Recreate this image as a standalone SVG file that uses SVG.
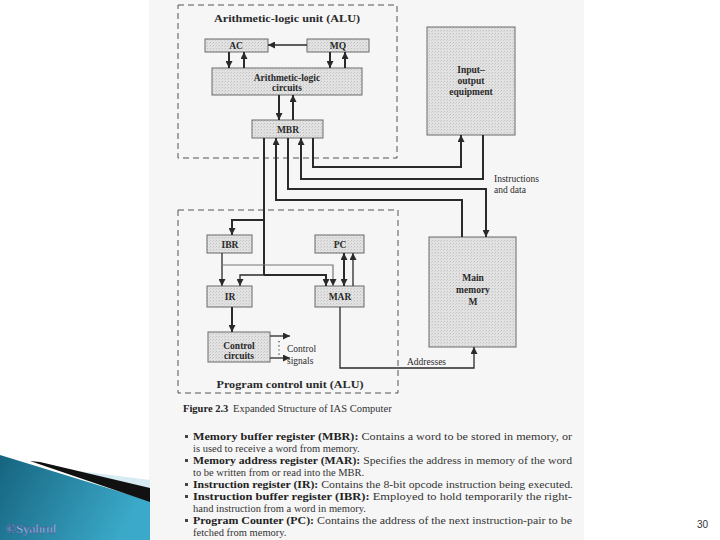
<svg xmlns="http://www.w3.org/2000/svg" width="720" height="540" viewBox="0 0 720 540">
<defs>
<linearGradient id="blue" x1="0" y1="0" x2="1" y2="0.3">
<stop offset="0" stop-color="#16647f"/>
<stop offset="1" stop-color="#3ba9c9"/>
</linearGradient>
<pattern id="stip" width="3" height="3" patternUnits="userSpaceOnUse">
<rect width="3" height="3" fill="#e2e2e2"/>
<rect x="0" y="0" width="1" height="1" fill="#c2c2c2"/>
<rect x="2" y="1" width="1" height="1" fill="#cfcfcf"/>
</pattern>
<marker id="ah" viewBox="0 0 8 8" refX="8" refY="4" markerWidth="7" markerHeight="7" markerUnits="userSpaceOnUse" orient="auto-start-reverse">
<path d="M0,0 L8,4 L0,8 z" fill="#2a2a2a"/>
</marker>
</defs>
<style>
.box{fill:url(#stip);stroke:#6a6a6a;stroke-width:1}
.dash{fill:none;stroke:#555;stroke-width:1;stroke-dasharray:6 4}
.lbl{font-family:"Liberation Serif","Times New Roman",serif;font-weight:bold;font-size:9.5px;fill:#2a2a2a;text-anchor:middle}
.sm{font-family:"Liberation Serif","Times New Roman",serif;font-size:9.5px;fill:#2a2a2a}
.c{fill:none;stroke:#2a2a2a;stroke-width:2}
.t{fill:none;stroke:#2a2a2a;stroke-width:1.3}
.body{font-family:"Liberation Serif","Times New Roman",serif;font-size:10.5px;fill:#333}
.b{font-weight:bold;fill:#222}
</style>
<rect width="720" height="540" fill="#ffffff"/>
<rect x="149" y="0" width="435" height="540" fill="#f6f6f6"/>
<g id="wedge">
<polygon points="0,455 150,501 150,540 0,540" fill="url(#blue)"/>
<polygon points="55,468 150,480 150,490 70,469" fill="#d6ebf2"/>
<polygon points="40,462 150,488 150,502 30,461" fill="#111"/>
<text x="6" y="533" font-family="Liberation Serif, serif" font-size="13" fill="#c9d3f5" stroke="#4a5a9a" stroke-width="0.4">©Syahrul</text>
</g>
<text x="697" y="528" font-family="Liberation Sans, Arial, sans-serif" font-size="10" fill="#333">30</text>

<g id="alu-frame">
<rect class="dash" x="178" y="5" width="219" height="153"/>
<text class="lbl" x="287" y="22" font-size="10" textLength="146" lengthAdjust="spacingAndGlyphs">Arithmetic-logic unit (ALU)</text>
</g>
<g id="pcu-frame">
<rect class="dash" x="178" y="210" width="220" height="183"/>
<text class="lbl" x="290" y="388" font-size="10" textLength="147" lengthAdjust="spacingAndGlyphs">Program control unit (ALU)</text>
</g>

<g id="AC"><rect class="box" x="205" y="39" width="63" height="13"/><text class="lbl" x="236" y="49">AC</text></g>
<g id="MQ"><rect class="box" x="307" y="39" width="62" height="13"/><text class="lbl" x="338" y="49">MQ</text></g>
<g id="ALC"><rect class="box" x="212" y="68" width="150" height="27"/><text class="lbl" x="287" y="81">Arithmetic-logic</text><text class="lbl" x="287" y="91">circuits</text></g>
<g id="MBR"><rect class="box" x="252" y="120" width="71" height="18"/><text class="lbl" x="288" y="133">MBR</text></g>
<g id="IO"><rect class="box" x="427" y="27" width="88" height="108"/><text class="lbl" x="471" y="73">Input–</text><text class="lbl" x="471" y="84">output</text><text class="lbl" x="471" y="95">equipment</text></g>
<g id="MM"><rect class="box" x="429" y="237" width="87" height="110"/><text class="lbl" x="473" y="281">Main</text><text class="lbl" x="473" y="293">memory</text><text class="lbl" x="473" y="305">M</text></g>
<g id="IBR"><rect class="box" x="207" y="235" width="45" height="18"/><text class="lbl" x="230" y="248">IBR</text></g>
<g id="PC"><rect class="box" x="315" y="235" width="49" height="18"/><text class="lbl" x="340" y="248">PC</text></g>
<g id="IR"><rect class="box" x="207" y="286" width="45" height="21"/><text class="lbl" x="230" y="300">IR</text></g>
<g id="MAR"><rect class="box" x="315" y="286" width="49" height="21"/><text class="lbl" x="340" y="300">MAR</text></g>
<g id="CC"><rect class="box" x="208" y="332" width="62" height="30"/><text class="lbl" x="239" y="349">Control</text><text class="lbl" x="239" y="359">circuits</text></g>

<g id="connectors">
<path class="t" d="M307,45 H268" marker-end="url(#ah)"/>
<path class="c" d="M229,52 V68" marker-end="url(#ah)"/>
<path class="c" d="M244,68 V52" marker-end="url(#ah)"/>
<path class="c" d="M330,52 V68" marker-end="url(#ah)"/>
<path class="c" d="M345,68 V52" marker-end="url(#ah)"/>
<path class="c" d="M279,95 V120" marker-end="url(#ah)"/>
<path class="c" d="M293,120 V95" marker-end="url(#ah)"/>
<path class="c" d="M264,138 V275"/>
<path class="c" d="M264,220 H232 V235" marker-end="url(#ah)"/>
<path class="t" d="M264,275 H240 V286" marker-end="url(#ah)"/>
<path class="c" d="M264,275 H326 V286" marker-end="url(#ah)"/>
<path class="c" d="M462,237 V200 H276 V138" marker-end="url(#ah)"/>
<path class="c" d="M288,138 V189 H486 V237" marker-end="url(#ah)"/>
<path class="c" d="M483,135 V179 H301 V138" marker-end="url(#ah)"/>
<path class="c" d="M313,138 V167 H461 V135" marker-end="url(#ah)"/>
<path class="t" d="M222,253 V286" marker-end="url(#ah)"/>
<path d="M222,265 H333 V286" fill="none" stroke="#777" stroke-width="1.2" marker-end="url(#ah)"/>
<path class="c" d="M344,253 V286" marker-start="url(#ah)" marker-end="url(#ah)"/>
<path class="t" d="M353,286 V253" marker-end="url(#ah)"/>
<path class="c" d="M232,307 V332" marker-end="url(#ah)"/>
<path class="t" d="M270,336 H290" marker-end="url(#ah)"/>
<path class="t" d="M270,358 H290" marker-end="url(#ah)"/>
<path d="M279,341 V356" fill="none" stroke="#333" stroke-width="1.2" stroke-dasharray="1.2 3"/>
<path class="t" d="M340,307 V368 H474 V347" marker-end="url(#ah)"/>
</g>

<g id="labels">
<text class="sm" x="287" y="352">Control</text>
<text class="sm" x="287" y="364">signals</text>
<text class="sm" x="407" y="365">Addresses</text>
<text class="sm" x="494" y="182">Instructions</text>
<text class="sm" x="494" y="193">and data</text>
</g>

<g id="caption">
<text class="body b" x="183" y="412" font-size="10">Figure 2.3</text>
<text class="body" x="233" y="412" font-size="10">Expanded Structure of IAS Computer</text>
</g>
<g id="bullets" fill="#444">
<rect x="185" y="435" width="3" height="3"/>
<rect x="185" y="459" width="3" height="3"/>
<rect x="185" y="483" width="3" height="3"/>
<rect x="185" y="495" width="3" height="3"/>
<rect x="185" y="519" width="3" height="3"/>
</g>
<g id="body">
<text class="body" x="193" y="440" textLength="379" lengthAdjust="spacingAndGlyphs"><tspan class="b">Memory buffer register (MBR):</tspan> Contains a word to be stored in memory, or</text>
<text class="body" x="193" y="452">is used to receive a word from memory.</text>
<text class="body" x="193" y="464" textLength="379" lengthAdjust="spacingAndGlyphs"><tspan class="b">Memory address register (MAR):</tspan> Specifies the address in memory of the word</text>
<text class="body" x="193" y="476">to be written from or read into the MBR.</text>
<text class="body" x="193" y="488" textLength="380" lengthAdjust="spacingAndGlyphs"><tspan class="b">Instruction register (IR):</tspan> Contains the 8-bit opcode instruction being executed.</text>
<text class="body" x="193" y="500" textLength="379" lengthAdjust="spacingAndGlyphs"><tspan class="b">Instruction buffer register (IBR):</tspan> Employed to hold temporarily the right-</text>
<text class="body" x="193" y="512">hand instruction from a word in memory.</text>
<text class="body" x="193" y="524" textLength="379" lengthAdjust="spacingAndGlyphs"><tspan class="b">Program Counter (PC):</tspan> Contains the address of the next instruction-pair to be</text>
<text class="body" x="193" y="536">fetched from memory.</text>
</g>
</svg>
